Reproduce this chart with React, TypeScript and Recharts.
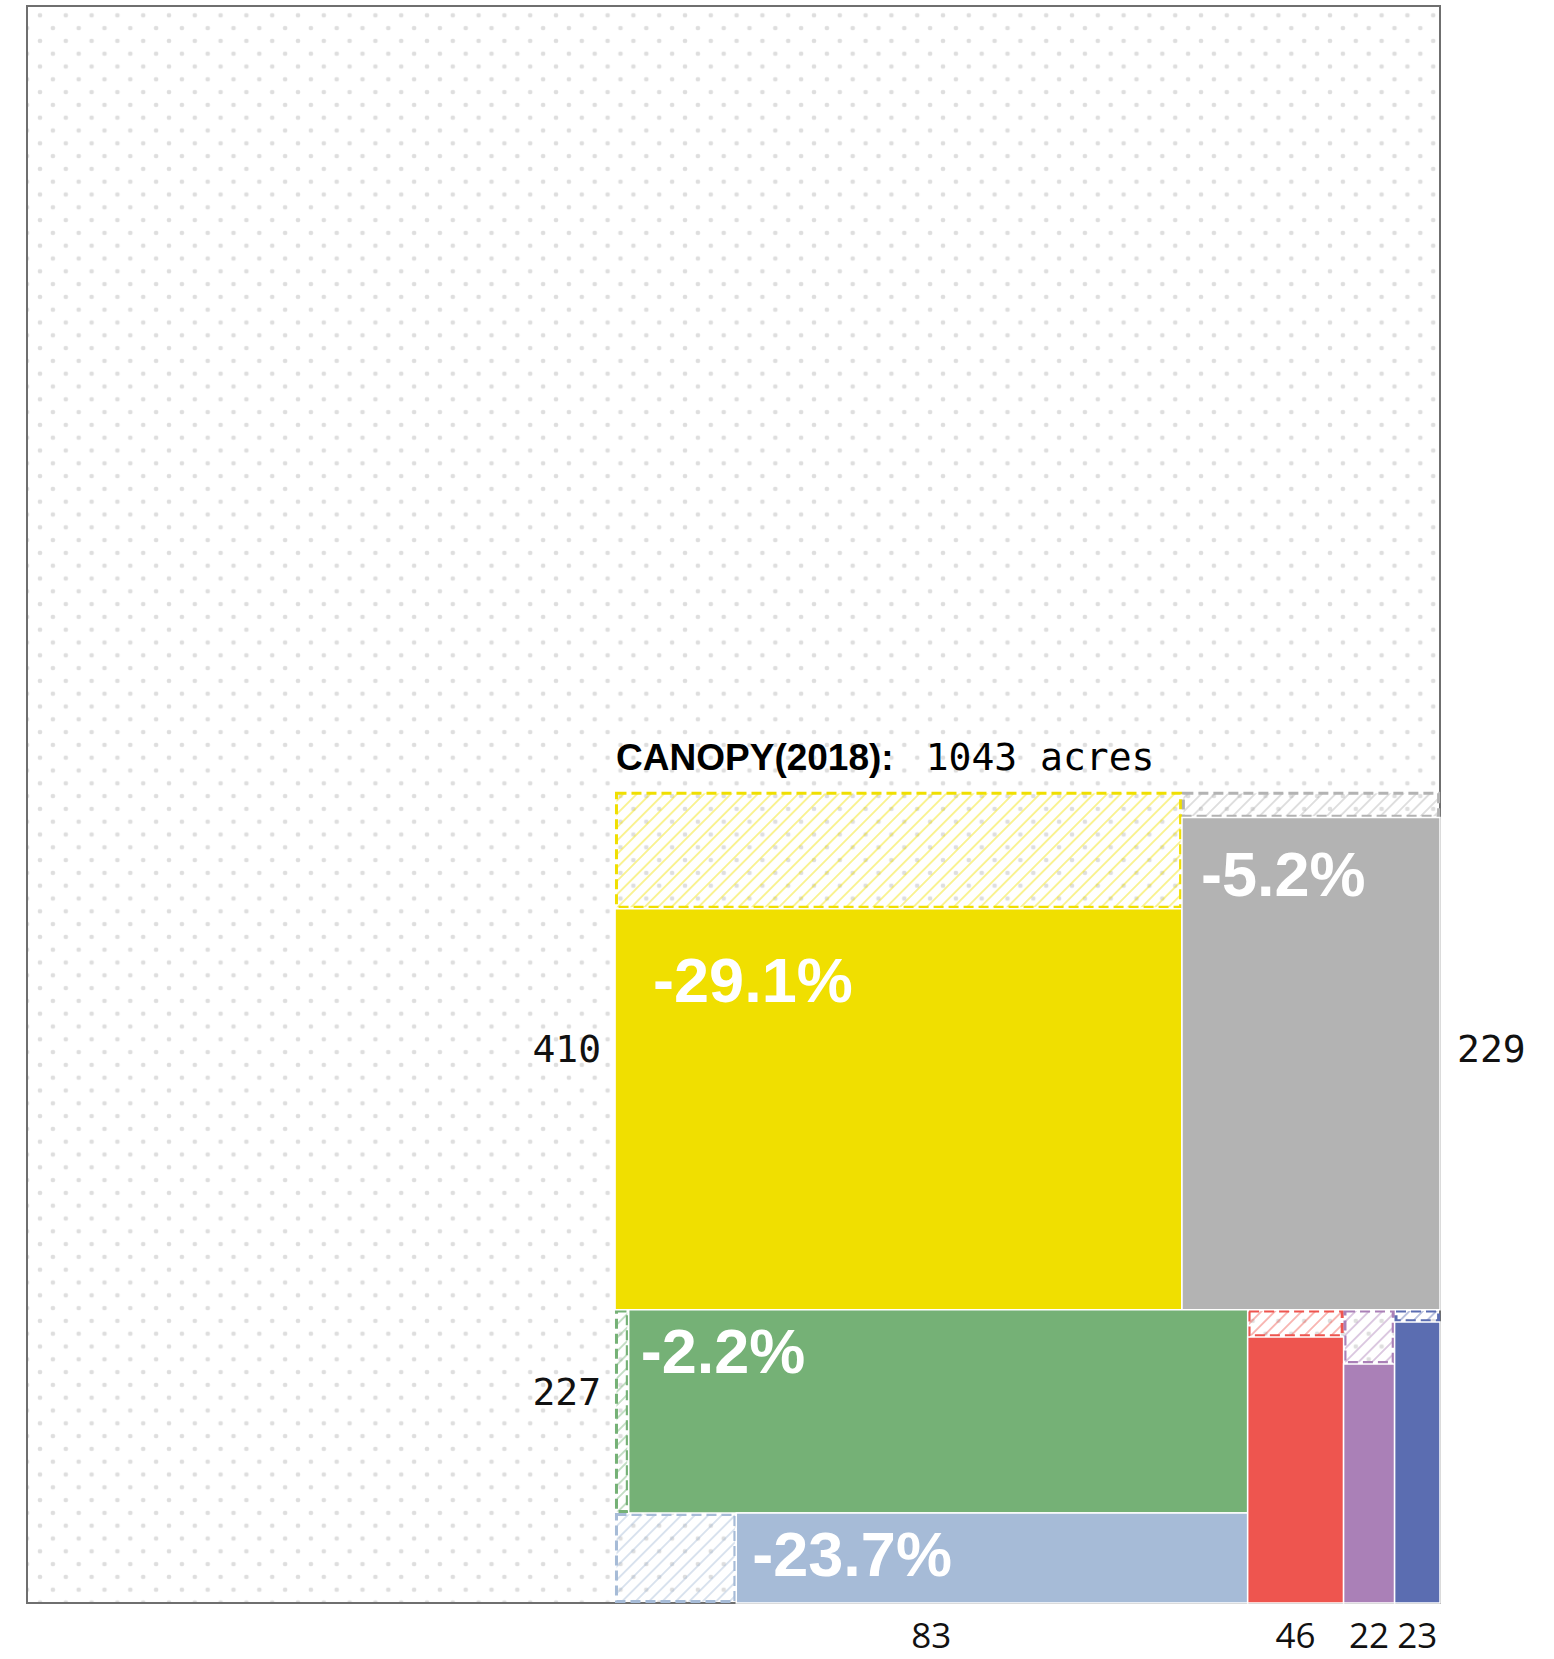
import React from 'react';
import { ComposedChart, XAxis, YAxis, ReferenceArea } from 'recharts';

// canopy classes, 2018 acres and change since the earlier survey
const categories = ['yellow', 'grey', 'green', 'lightBlue', 'red', 'purple', 'blue'];
const acres2018 = [410, 229, 227, 83, 46, 22, 23];
const changePct = [-29.1, -5.2, -2.2, -23.7, -10.3, -22.7, -4.4];

const titleText = 'CANOPY(2018):';
const titleValue = '1043 acres';

// study area extent in acre-length units (1 unit = sqrt(1 acre))
const STUDY_W = 59.5;
const STUDY_H = 68.4;

// rows of the canopy block; each cell stacks its classes top to bottom
const rows = [[[0], [1]], [[2, 3], [4], [5], [6]]];

const colors = ['#f0df00', '#b3b3b3', '#75b176', '#a6bbd7', '#ee554f', '#aa80b7', '#5b6db1'];
// inset of the % label inside the solid block (null = too small to label)
const pctInset: Array<[number, number] | null> = [[38, 93], [19, 78], [12, 63], [16, 63], null, null, null];
const valueNudge = [0, 0, -17, 0, 0, 0, 0];

type Rect = { x1: number; x2: number; y1: number; y2: number };
type Cell = { i: number; box: Rect; hatch: Rect; solid: Rect; side: 'left' | 'right' | 'bottom' };

// earlier extent = 2018 acres plus the lost share
const boxAcres = acres2018.map((a, i) => a * (1 + Math.abs(changePct[i]) / 100));
const total = boxAcres.reduce((s, v) => s + v, 0);
const side = Math.sqrt(total);
const xLeft = STUDY_W - side;

const cells: Cell[] = [];
let yTop = side;
rows.forEach((row, r) => {
  const rowSum = row.flat().reduce((s, i) => s + boxAcres[i], 0);
  const h = rowSum / side;
  let x = xLeft;
  row.forEach((cell, c) => {
    const cellSum = cell.reduce((s, i) => s + boxAcres[i], 0);
    const w = cellSum / h;
    let y = yTop;
    cell.forEach((i, k) => {
      const ih = boxAcres[i] / w;
      const loss = boxAcres[i] - acres2018[i];
      const box = { x1: x, x2: x + w, y1: y - ih, y2: y };
      let hatch: Rect, solid: Rect;
      if (cell.length > 1) {
        const lw = loss / ih;
        hatch = { x1: x, x2: x + lw, y1: y - ih, y2: y };
        solid = { x1: x + lw, x2: x + w, y1: y - ih, y2: y };
      } else {
        const lh = loss / w;
        hatch = { x1: x, x2: x + w, y1: y - lh, y2: y };
        solid = { x1: x, x2: x + w, y1: y - ih, y2: y - lh };
      }
      const atBottom = r === rows.length - 1 && k === cell.length - 1;
      const labelSide = atBottom ? 'bottom' : c === 0 ? 'left' : 'right';
      cells.push({ i, box, hatch, solid, side: labelSide });
      y -= ih;
    });
    x += w;
  });
  yTop -= h;
});

// dashed, hatched rectangle for the lost canopy
const hatchShape = (i: number) => (props: any) => {
  const { x, y, width, height } = props;
  return (
    <rect x={x + 1.4} y={y + 1.4} width={Math.max(width - 2.8, 0)} height={Math.max(height - 2.8, 0)}
      fill={`url(#hatch-${i})`} stroke={colors[i]} strokeWidth={3} strokeDasharray="10 5" />
  );
};

const pctLabel = (i: number) => (props: any) => {
  const { x, y } = props.viewBox;
  const [dx, dy] = pctInset[i]!;
  return (
    <text x={x + dx} y={y + dy} fill="#fff" fontSize={63} fontWeight={700}
      fontFamily="'Liberation Sans', Arial, sans-serif">
      {`${changePct[i].toFixed(1)}%`}
    </text>
  );
};

const valueLabel = (c: Cell) => (props: any) => {
  const { x, y, width, height } = props.viewBox;
  const v = String(acres2018[c.i]);
  if (c.side === 'bottom') {
    return (
      <text x={x + width / 2} y={y + height + 45} textAnchor="middle" fontSize={35}
        fontFamily="'Open Sans', sans-serif" fill="#111">{v}</text>
    );
  }
  const cy = y + height / 2 + 11 + valueNudge[c.i];
  return (
    <text x={c.side === 'left' ? x - 14 : x + width + 17} y={cy}
      textAnchor={c.side === 'left' ? 'end' : 'start'} fontSize={38}
      fontFamily="'DejaVu Sans Mono', monospace" fill="#111">{v}</text>
  );
};

const titleLabel = (props: any) => {
  const { x, y } = props.viewBox;
  return (
    <text x={x + 1} y={y - 22} fill="#000">
      <tspan fontFamily="'Liberation Sans', Arial, sans-serif" fontWeight={700} fontSize={37}>{titleText}</tspan>
      <tspan dx={32} fontFamily="'DejaVu Sans Mono', monospace" fontSize={38}>{titleValue}</tspan>
    </text>
  );
};

export default function App() {
  return (
    <div style={{ position: 'absolute', left: 0, top: 0, width: 1554, height: 1659, background: '#fff' }}>
      <ComposedChart width={1554} height={1659} margin={{ top: 6, right: 114, bottom: 56, left: 27 }}>
        <defs>
          <pattern id="dots" patternUnits="userSpaceOnUse" x={1.3} y={2.5} width={25.8} height={25.6}>
            <rect width={25.8} height={25.6} fill="#fff" />
            {[[0, 0], [25.8, 0], [0, 25.6], [25.8, 25.6], [12.9, 12.8]].map(([cx, cy], k) => (
              <circle key={k} cx={cx} cy={cy} r={2.3} fill="#dedede" />
            ))}
          </pattern>
          {categories.map((name, i) => (
            <pattern key={name} id={`hatch-${i}`} patternUnits="userSpaceOnUse" width={9.5} height={9.5}
              patternTransform="rotate(45)">
              <line x1={4.75} y1={0} x2={4.75} y2={9.5} stroke={colors[i]} strokeOpacity={0.55} strokeWidth={1.5} />
            </pattern>
          ))}
        </defs>
        <XAxis type="number" dataKey="x" domain={[0, STUDY_W]} hide allowDataOverflow />
        <YAxis type="number" dataKey="y" domain={[0, STUDY_H]} hide allowDataOverflow />

        <ReferenceArea x1={0} x2={STUDY_W} y1={0} y2={STUDY_H} fill="url(#dots)" fillOpacity={1}
          stroke="#6f6f6f" strokeWidth={2} ifOverflow="visible" />

        {cells.map((c) => (
          <ReferenceArea key={`h-${c.i}`} {...c.hatch} ifOverflow="visible" shape={hatchShape(c.i)} />
        ))}
        {cells.map((c) => (
          <ReferenceArea key={`s-${c.i}`} {...c.solid} fill={colors[c.i]} fillOpacity={1}
            stroke="#fff" strokeWidth={1.5} ifOverflow="visible"
            label={pctInset[c.i] ? pctLabel(c.i) : undefined} />
        ))}
        {cells.map((c) => (
          <ReferenceArea key={`b-${c.i}`} {...c.box} fill="none" fillOpacity={0} stroke="none"
            ifOverflow="visible" label={valueLabel(c)} />
        ))}
        <ReferenceArea x1={xLeft} x2={STUDY_W} y1={0} y2={side} fill="none" fillOpacity={0} stroke="none"
          ifOverflow="visible" label={titleLabel} />
      </ComposedChart>
    </div>
  );
}
